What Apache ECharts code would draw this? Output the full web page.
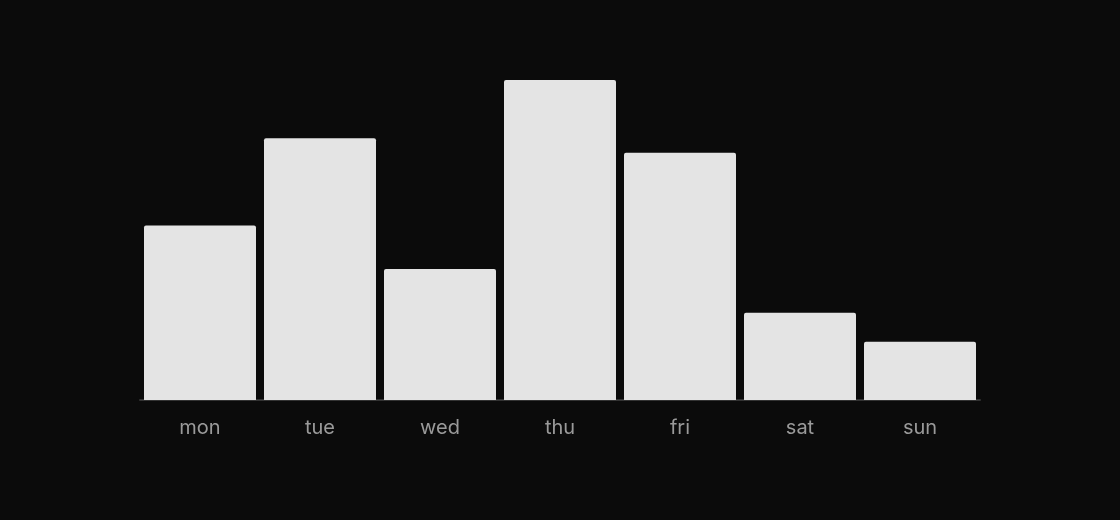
<!DOCTYPE html>
<html>
<head>
<meta charset="utf-8">
<script src="https://cdn.jsdelivr.net/npm/echarts@6/dist/echarts.min.js"></script>
<style>
  html, body { margin: 0; padding: 0; background: #0b0b0b; }
  #chart { width: 1120px; height: 520px; }
</style>
</head>
<body>
<div id="chart"></div>
<script>
var days = ['mon', 'tue', 'wed', 'thu', 'fri', 'sat', 'sun'];
var values = [12, 18, 9, 22, 17, 6, 4];

var chart = echarts.init(document.getElementById('chart'));

var option = {
    backgroundColor: '#0b0b0b',
    animation: false,
    grid: { left: 140, right: 140, top: 80, bottom: 120 },
    xAxis: {
        type: 'category',
        data: days,
        axisLine: { lineStyle: { color: '#333333', width: 2 } },
        axisTick: { show: false },
        axisLabel: {
            color: '#9a9a9a',
            fontFamily: 'Inter',
            fontSize: 20,
            margin: 18
        }
    },
    yAxis: {
        type: 'value',
        min: 0,
        max: 22,
        show: false,
        splitLine: { show: false }
    },
    series: [{
        type: 'bar',
        data: values,
        barCategoryGap: '6.67%',
        itemStyle: { color: '#e4e4e4', borderRadius: [2, 2, 0, 0] }
    }]
};

chart.setOption(option);
</script>
</body>
</html>
